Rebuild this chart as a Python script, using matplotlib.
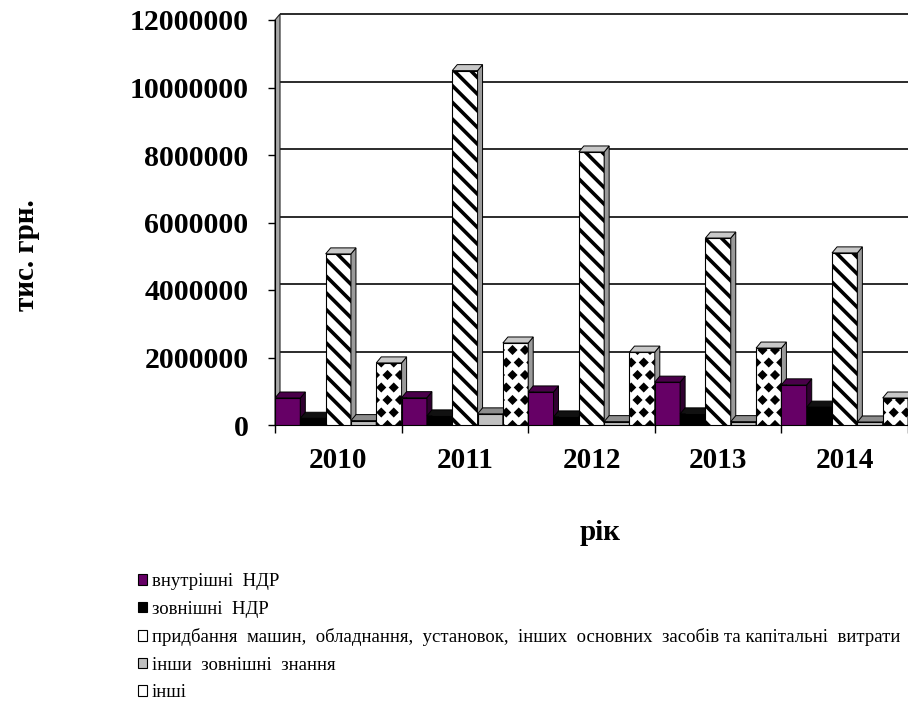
import numpy as np
import matplotlib
matplotlib.use('Agg')
import matplotlib.pyplot as plt
from matplotlib.patches import Polygon, Patch
from matplotlib.path import Path
import matplotlib.hatch as mhatch

# ---------------- data ----------------
years = ['2010', '2011', '2012', '2013', '2014']
internal_rd = [800000, 810000, 980000, 1270000, 1190000]
external_rd = [200000, 270000, 240000, 330000, 530000]
machinery = [5070000, 10500000, 8090000, 5540000, 5100000]
other_knowledge = [130000, 330000, 100000, 100000, 90000]
other = [1840000, 2430000, 2160000, 2280000, 800000]

labels = ['внутрішні  НДР',
          'зовнішні  НДР',
          'придбання  машин,  обладнання,  установок,  інших  основних  засобів та капітальні  витрати',
          'інши  зовнішні  знання',
          'інші']
y_ticks = [0, 2000000, 4000000, 6000000, 8000000, 10000000, 12000000]

# ---------------- custom diamond-dot hatch ----------------
class DiamondDots(mhatch.Shapes):
    size = 0.2
    filled = True

    def __init__(self, hatch, density):
        self.num_rows = hatch.count('.') * 8
        path = Path.unit_regular_polygon(4)
        self.shape_vertices = path.vertices
        self.shape_codes = path.codes
        super().__init__(hatch, density)

mhatch._hatch_types = [DiamondDots if t is mhatch.SmallFilledCircles else t
                       for t in mhatch._hatch_types]

plt.rcParams['font.family'] = ['Liberation Serif', 'DejaVu Serif']
plt.rcParams['hatch.linewidth'] = 2.6
plt.rcParams['hatch.color'] = 'black'

W, H = 908, 706
fig = plt.figure(figsize=(W / 100, H / 100), dpi=100)
ax = fig.add_axes([275 / W, 1 - 425 / H, (908 - 275) / W, 405 / H])
ax.set_xlim(-0.5, 4.5)
ax.set_ylim(0, 12000000)

# pixel -> data conversion for 3D depth offsets
sx = (908 - 275) / 5.0
sy = 405 / 12000000.0
dx = 5 / sx
dy = 6 / sy

# back-wall gridlines
for v in y_ticks[1:]:
    ax.plot([-0.5 + dx, 4.5 + dx], [v + dy, v + dy], color='#2b2b2b', lw=1.4,
            zorder=1, clip_on=False, solid_capstyle='butt')
ax.plot([-0.5 + dx, 4.5 + dx], [dy, dy], color='#555555', lw=0.8, zorder=1)

# left wall edge
ax.add_patch(Polygon([(-0.5, 0), (-0.5, 12000000), (-0.5 + dx, 12000000 + dy),
                      (-0.5 + dx, dy)], closed=True, facecolor='#a8a8a8',
                     edgecolor='#222222', lw=0.8, zorder=1.5, clip_on=False))

series = [internal_rd, external_rd, machinery, other_knowledge, other]
styles = [
    dict(front='#660066', top='#4a004a', side='#300030', hatch=None),
    dict(front='#000000', top='#111111', side='#000000', hatch=None),
    dict(front='#ffffff', top='#c8c8c8', side='#9a9a9a', hatch='\\\\'),
    dict(front='#c0c0c0', top='#8c8c8c', side='#7a7a7a', hatch=None),
    dict(front='#ffffff', top='#c8c8c8', side='#9a9a9a', hatch='.'),
]
offsets = [-0.4, -0.2, 0.0, 0.2, 0.4]
x = np.arange(len(years))

for s, (vals, st) in enumerate(zip(series, styles)):
    bars = ax.bar(x + offsets[s], vals, 0.2, color=st['front'], edgecolor='black',
                  linewidth=0.8, hatch=st['hatch'])
    for i, p in enumerate(bars.patches):
        z = 3 + (i * 5 + s) * 0.01
        p.set_zorder(z)
        x0 = p.get_x()
        x1 = x0 + p.get_width()
        v = p.get_height()
        top = Polygon([(x0, v), (x1, v), (x1 + dx, v + dy), (x0 + dx, v + dy)],
                      closed=True, facecolor=st['top'], edgecolor='black', lw=0.7,
                      zorder=z + 0.005)
        side = Polygon([(x1, 0), (x1, v), (x1 + dx, v + dy), (x1 + dx, dy)],
                       closed=True, facecolor=st['side'], edgecolor='black', lw=0.7,
                       zorder=z + 0.004)
        ax.add_patch(side)
        ax.add_patch(top)

# axes styling
for sp in ['top', 'right']:
    ax.spines[sp].set_visible(False)
ax.spines['left'].set_color('black')
ax.spines['bottom'].set_color('black')
ax.spines['left'].set_zorder(2)

ax.set_yticks(y_ticks)
ax.set_yticklabels([str(v) for v in y_ticks], fontsize=21.5, fontweight='bold')
ax.tick_params(axis='y', length=5, width=1, pad=14)

ax.set_xticks(x)
ax.set_xticklabels(years, fontsize=21, fontweight='bold')
ax.tick_params(axis='x', which='major', length=0, pad=16)
ax.set_xticks(np.arange(-0.5, 5.0, 1.0), minor=True)
ax.tick_params(axis='x', which='minor', length=6, width=1)

fig.text(26 / W, 1 - 255 / H, 'тис. грн.', rotation=90, fontsize=21,
         fontweight='bold', ha='center', va='center')
fig.text(600 / W, 1 - 533 / H, 'рік', fontsize=21, fontweight='bold',
         ha='center', va='center')

handles = [Patch(facecolor=st['front'] if st['hatch'] is None else 'white',
                 edgecolor='black', linewidth=0.8) for st in styles]
fig.legend(handles, labels, loc='upper left', bbox_to_anchor=(138 / W, 1 - 573 / H),
           frameon=False, fontsize=13.5, handlelength=0.5, handleheight=0.5,
           handletextpad=0.22, labelspacing=0.56, borderpad=0, borderaxespad=0)

fig.savefig('out.png', dpi=100)
